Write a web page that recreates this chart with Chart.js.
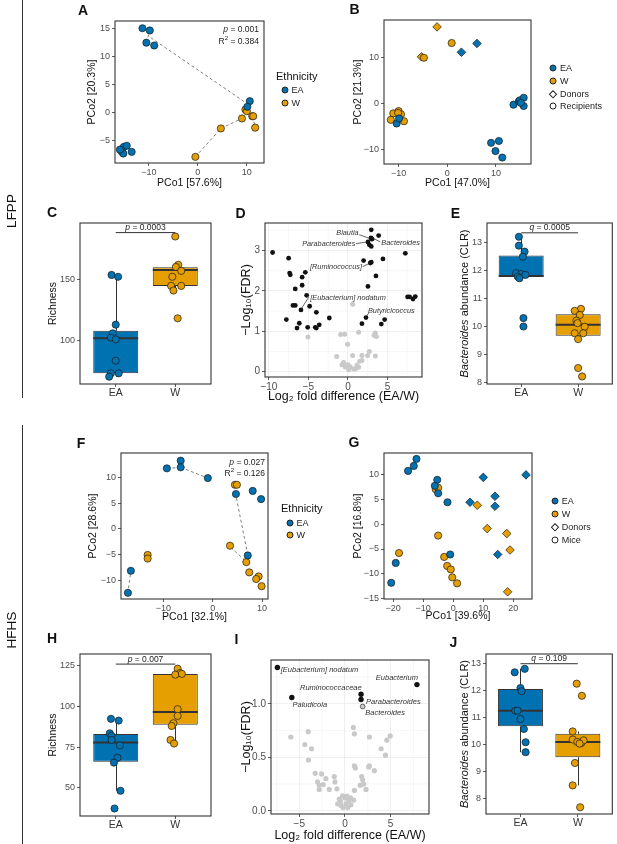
<!DOCTYPE html>
<html>
<head>
<meta charset="utf-8">
<title>LFPP / HFHS panels</title>
<script src="https://cdn.jsdelivr.net/npm/chart.js@4.4.1/dist/chart.umd.min.js"></script>
<style>
  html, body { margin: 0; padding: 0; background: #fff; }
  body { position: relative; width: 617px; height: 844px; overflow: hidden;
         font-family: 'Liberation Sans', Arial, sans-serif; color: #222; }
  #wrap canvas { position: absolute; left: 0; top: 0; }
  .lbl { position: absolute; white-space: nowrap; line-height: 1; transform: translateY(-50%); }
  .mk { position: absolute; width: 7px; height: 7px; box-sizing: border-box; border: 0.8px solid #222;
        border-radius: 50%; transform: translate(-50%, -50%); }
  .dia { border-radius: 0; width: 5.5px; height: 5.5px; transform: translate(-50%, -50%) rotate(45deg); }
  .rule { position: absolute; left: 22px; width: 1px; background: #333; }
</style>
</head>
<body>
<div id="wrap"></div>
<div id="text"></div>
<script>
// ── DATA ─────────────────────────────────────────────
const cats = ['EA', 'W'];

// A: LFPP PCoA
const aEA = [[-11.3,15.1],[-9.8,14.7],[-10.5,12.5],[-8.9,12.0],[10.6,2.0],[10.1,1.0],
  [-15.5,-7.1],[-15.1,-6.2],[-14.5,-6.0],[-13.5,-7.1],[-15.2,-7.4],[-15.9,-6.7]];
const aW = [[9.7,0.5],[10.0,0.2],[11.1,-0.7],[11.3,-0.7],[9.0,-1.1],[11.7,-2.75],[4.7,-2.9],[-0.5,-8.0]];
const aLinks = [[-9.6,13.4,10.0,1.6],[-0.5,-8.0,4.7,-2.9],[4.7,-2.9,9.0,-1.1],[9.0,-1.1,10.0,0.3],
  [11.2,-0.7,11.7,-2.75],[-10.5,12.5,-9.8,14.7]];
const aXTicks = [-10, 0, 10];
const aYTicks = [-5, 0, 5, 10, 15];

// B: LFPP donors + recipients
const bEA = [[-10.4,-4.4],[-9.9,-3.3],[13.6,-0.3],[14.7,0.4],[14.9,0.65],[15.7,1.2],[15.7,-0.6],[15.1,0.1],
  [9.0,-8.6],[10.6,-8.2],[9.9,-10.4],[11.3,-11.8]];
const bW = [[0.9,13.1],[-4.8,9.9],[-11.1,-2.2],[-10.0,-1.7],[-9.5,-2.4],[-11.6,-3.6],[-8.9,-3.9],[-10.1,-2.1]];
const bEADonor = [[2.9,11.1],[6.1,13.0]];
const bWDonor = [[-2.1,16.6],[-5.3,10.1]];
const bXTicks = [-10, 0, 10];
const bYTicks = [-10, 0, 10];

// C: LFPP richness
const cEA = [153.5,152,113,106,102.4,101,83.7,73.4,73.4,70.7];
const cEAJit = [-0.07,0.04,0,-0.05,-0.08,0,0,-0.08,0.05,-0.11];
const cW = [184.8,161.7,160,156.8,152,144.6,144.6,140.8,118.2];
const cWJit = [0,0.05,0.01,0.1,-0.05,-0.07,0.1,-0.03,0.04];
const cBoxEA = [70.7,73.4,102,108,153.5];   // lo, q1, median, q3, hi
const cBoxW = [140.8,144.6,157.6,159.8,161.7];
const cYTicks = [100, 150];
const cPval = '0.0003', cBracketY = 188;

// D: LFPP volcano
const dSig = [[-9.54,2.95],[-7.51,2.81],[-7.38,2.44],[-7.3,2.4],[-5.4,2.46],[-5.8,2.34],[-5.8,2.14],[-6.67,2.05],
  [-5.23,1.89],[-6.96,1.64],[-6.67,1.64],[-5.95,1.53],[-4.85,1.62],[-7.8,1.29],[-6.16,1.2],[-4.0,1.47],
  [-6.45,1.08],[-5.1,1.1],[-4.14,1.1],[-4.0,1.08],[-3.63,1.16],[-2.36,1.33],
  [2.95,3.51],[3.88,3.37],[2.91,3.31],[3.04,3.28],[2.53,3.21],[2.7,3.14],[2.95,3.1],[1.98,2.75],[2.83,2.69],
  [2.95,2.71],[4.43,2.79],[3.54,2.37],[2.53,2.11],[7.26,2.93],[7.55,1.85],[7.8,1.85],[8.23,1.8],[8.52,1.86],
  [2.28,1.34],[1.77,1.19],[4.22,1.18],[4.64,1.29]];
const dNs = [[-5.06,0.86],[0.59,1.67],[-0.93,0.92],[-0.42,0.93],[1.35,0.98],[3.46,0.96],[3.59,0.87],[-0.04,0.68],
  [2.7,0.5],[2.49,0.4],[3.46,0.39],[0.59,0.4],[1.77,0.4],[-1.43,0.38],[-0.55,0.23],[-0.76,0.17],[-0.34,0.12],
  [0,0.17],[0.3,0.12],[0.72,0.07],[1.14,0.16],[1.48,0.26],[1.77,0.28],[0.93,0.07],[0.08,0.05],[1.35,0.11],
  [3.3,0.9]];
const dXTicks = [-10, -5, 0, 5];
const dYTicks = [0, 1, 2, 3];

// E: LFPP Bacteroides
const eEA = [13.2,12.88,12.67,12.49,11.9,11.87,11.84,11.78,11.72,10.3,10.0];
const eEAJit = [-0.04,-0.04,0.06,0.03,-0.09,0,0.075,-0.06,-0.03,0.04,0.04];
const eW = [10.63,10.56,10.41,10.21,10.12,9.99,9.76,9.76,9.55,8.52,8.22];
const eWJit = [0.05,-0.06,0.03,-0.03,-0.01,0.115,-0.06,0.09,0,0,0.07];
const eBoxEA = [11.72,11.78,11.8,12.53,13.2];
const eBoxW = [9.55,9.67,10.06,10.44,10.63];
const eYTicks = [8, 9, 10, 11, 12, 13];
const eQval = '0.0005', eBracketY = 13.34;

// F: HFHS PCoA
const fEA = [[-6.5,13.3],[-6.5,12.0],[-9.3,11.8],[-1.0,9.9],[4.7,6.8],[8.1,7.4],[9.8,5.8],[7.1,-5.2],[-16.6,-8.2],[-17.2,-12.5]];
const fW = [[4.5,8.6],[4.9,8.6],[3.5,-3.3],[6.8,-6.5],[7.4,-8.5],[9.3,-9.3],[8.8,-9.8],[9.9,-11.2],[-13.2,-5.1],[-13.2,-5.8]];
const fLinks = [[-9.3,11.8,-6.5,12.0],[-6.5,12.0,-1.0,9.9],[4.8,6.0,7.0,-4.6],[3.6,-3.6,6.6,-6.2],[-16.7,-8.9,-17.1,-11.8]];
const fXTicks = [-10, 0, 10];
const fYTicks = [-10, -5, 0, 5, 10];

// G: HFHS donors + mice
const gEA = [[-12.2,13.1],[-13.1,11.7],[-15,10.7],[-5.3,8.9],[-6.1,7.7],[-5,6.2],[-1.9,4.4],[-1,-6.1],[-19.1,-7.8],[-20.6,-11.8]];
const gW = [[-5.8,7.0],[-5,7.3],[-5,-2.3],[-18,-5.8],[-3,-6.6],[-2,-8.4],[-0.8,-9.1],[-0.3,-10.7],[1.3,-11.9]];
const gEADonor = [[10,9.4],[24.2,9.9],[13.9,5.6],[13.9,3.6],[5.6,4.4],[14.8,-6.1]];
const gWDonor = [[8,3.8],[11.3,-0.9],[17.8,-1.9],[18.9,-5.2],[18.1,-13.6]];
const gXTicks = [-20, -10, 0, 10, 20];
const gYTicks = [-15, -10, -5, 0, 5, 10];

// H: HFHS richness
const hEA = [92.4,91.3,83.5,81.9,79.4,76.1,68.5,65.5,48.2,37.3];
const hEAJit = [-0.08,0.05,-0.1,-0.07,-0.07,0.07,0.03,-0.03,0.08,-0.02];
const hW = [123.2,120.5,119.5,120,98.3,94.2,89.7,88,79.4,77.2];
const hWJit = [0.04,0.08,0,0.11,0.04,0.04,-0.03,-0.06,-0.08,-0.02];
const hBoxEA = [48.2,66,77.8,83,92.4];
const hBoxW = [77.2,88.7,96.5,119.9,123.2];
const hYTicks = [50, 75, 100, 125];
const hPval = '0.007', hBracketY = 126;

// I: HFHS volcano
const iSig = [[-7.4,1.34],[-5.82,1.06],[1.76,1.09],[1.76,1.04],[7.88,1.18]];
const iOutlined = [[1.94,0.975]];
const iNs = [[-5.93,0.69],[-4.03,0.74],[-4.4,0.62],[-3.66,0.58],[-4.0,0.475],[-3.26,0.35],[-2.56,0.345],[-3.0,0.27],
  [-2.09,0.3],[-1.17,0.32],[-2.82,0.24],[-2.82,0.2],[-2.38,0.245],[-1.72,0.2],[-1.1,0.27],[-0.88,0.205],[-0.26,0.14],
  [0,0.12],[0.22,0.137],[-0.62,0.11],[-0.8,0.065],[-0.44,0.05],[0.11,0.065],[0.4,0.09],[0.66,0.056],[0.95,0.1],
  [1.03,0.19],[0.92,0.78],[1.03,0.72],[1.03,0.42],[1.14,0.4],[1.83,0.32],[1.94,0.29],[1.68,0.24],[2.3,0.2],
  [2.67,0.69],[2.67,0.42],[3.22,0.375],[2.6,0.41],[3.96,0.58],[4.43,0.52],[4.58,0.66],[4.95,0.7],[2.05,0.25],
  [-0.2,0.03],[0.3,0.03],[-0.5,0.09],[0.6,0.12]];
const iXTicks = [-5, 0, 5];
const iYTicks = [0, 0.5, 1];

// J: HFHS Bacteroides
const jEA = [12.68,12.81,12.1,11.98,11.26,11.26,10.95,10.58,10.09,9.72];
const jEAJit = [-0.1,0.075,0,0.02,-0.09,-0.05,0,0.06,0.09,0.09];
const jW = [12.26,11.81,10.49,10.19,10.1,10.06,10.16,10.04,9.32,8.49,7.68];
const jWJit = [-0.02,0.07,-0.09,-0.09,-0.01,0.06,0.1,0.03,-0.05,-0.09,0.04];
const jBoxEA = [9.72,10.68,11.26,12.06,12.81];
const jBoxW = [8.49,9.53,10.1,10.4,10.49];
const jYTicks = [8, 9, 10, 11, 12, 13];
const jQval = '0.109', jBracketY = 13.0;

// ── STYLE ────────────────────────────────────────────
const W = 617, H = 844;
const FONT = "'Liberation Sans', Arial, Helvetica, sans-serif";
const BLUE = '#0072B2', ORANGE = '#E69F00', INK = '#333333', TICK = '#4d4d4d', GREY = '#c9c9c9';

const minus = v => String(v).replace('-', '\u2212');

function pts(arr, color, opt) {
  return Object.assign({
    data: arr.map(([x, y]) => ({x, y})),
    backgroundColor: color, borderColor: '#1a1a1a', borderWidth: 0.7,
    pointRadius: 3.6, pointStyle: 'circle', order: 0
  }, opt || {});
}
function jit(vals, off, cx, color) {
  return pts(vals.map((v, i) => [cx + off[i], v]), color);
}
function links(segs) {
  return segs.map(s => ({
    data: [{x: s[0], y: s[1]}, {x: s[2], y: s[3]}], showLine: true,
    borderColor: '#808080', borderDash: [3, 2.5], borderWidth: 1, pointRadius: 0, order: 5
  }));
}
function boxes(bEA, bW) {
  return {
    type: 'bar', data: [bEA, bW].map((b, i) => ({x: i + 1, y: [b[1], b[3]]})),
    backgroundColor: [BLUE, ORANGE], borderColor: INK, borderWidth: 1, borderSkipped: false,
    barThickness: 45, grouped: false, inflateAmount: 0, order: 3
  };
}

// mixed italic / roman text on the canvas
function rich(ctx, parts, x, y, size, align) {
  const fonts = parts.map(p => (p[1] ? 'italic ' : '') + size + 'px ' + FONT);
  const widths = parts.map((p, i) => { ctx.font = fonts[i]; return ctx.measureText(p[0]).width; });
  const total = widths.reduce((a, b) => a + b, 0);
  let cx = align === 'center' ? x - total / 2 : align === 'right' ? x - total : x;
  ctx.textAlign = 'left';
  parts.forEach((p, i) => { ctx.font = fonts[i]; ctx.fillText(p[0], cx, y); cx += widths[i]; });
}

function deco(o) {
  return {
    id: 'deco',
    beforeDatasetsDraw(chart) {
      const {ctx, chartArea: a, scales: {x, y}} = chart;
      ctx.save();
      if (o.gridlines) {
        ctx.strokeStyle = '#efefef'; ctx.lineWidth = 0.5;
        [[x, o.xt], [y, o.yt]].forEach(([s, t]) => {
          const step = t[1] - t[0];
          for (let v = t[0] - step / 2; v < s.max; v += step) {
            if (v <= s.min) continue;
            const p = s.getPixelForValue(v);
            ctx.beginPath();
            if (s === x) { ctx.moveTo(p, a.top); ctx.lineTo(p, a.bottom); }
            else { ctx.moveTo(a.left, p); ctx.lineTo(a.right, p); }
            ctx.stroke();
          }
        });
      }
      if (o.boxes) {
        ctx.strokeStyle = INK; ctx.lineWidth = 1;
        o.boxes.forEach((b, i) => {
          const px = Math.round(x.getPixelForValue(i + 1)) + 0.5;
          ctx.beginPath();
          ctx.moveTo(px, y.getPixelForValue(b[4])); ctx.lineTo(px, y.getPixelForValue(b[3]));
          ctx.moveTo(px, y.getPixelForValue(b[1])); ctx.lineTo(px, y.getPixelForValue(b[0]));
          ctx.stroke();
        });
      }
      ctx.restore();
    },
    afterDatasetDraw(chart, args) {
      if (!o.boxes || args.meta.type !== 'bar') return;
      const {ctx, scales: {y}} = chart;
      ctx.save();
      ctx.strokeStyle = INK; ctx.lineWidth = 2;
      args.meta.data.forEach((el, i) => {
        const py = y.getPixelForValue(o.boxes[i][2]);
        ctx.beginPath(); ctx.moveTo(el.x - el.width / 2, py); ctx.lineTo(el.x + el.width / 2, py); ctx.stroke();
      });
      ctx.restore();
    },
    afterDraw(chart) {
      const {ctx, chartArea: a, scales: {x, y}} = chart;
      ctx.save();
      ctx.strokeStyle = INK; ctx.lineWidth = 1.1;
      ctx.strokeRect(a.left, a.top, a.right - a.left, a.bottom - a.top);
      if (o.bracket) {
        const py = y.getPixelForValue(o.bracket.y);
        ctx.lineWidth = 1;
        ctx.beginPath(); ctx.moveTo(x.getPixelForValue(1), py); ctx.lineTo(x.getPixelForValue(2), py); ctx.stroke();
        ctx.fillStyle = '#222'; ctx.textBaseline = 'bottom';
        rich(ctx, o.bracket.parts, x.getPixelForValue(1.5), py - 0.5, 8.5, 'center');
      }
      if (o.labels) {
        ctx.strokeStyle = '#222'; ctx.lineWidth = 0.7; ctx.fillStyle = '#333'; ctx.textBaseline = 'middle';
        o.labels.forEach(l => {
          if (l.seg) {
            ctx.beginPath();
            ctx.moveTo(x.getPixelForValue(l.seg[0]), y.getPixelForValue(l.seg[1]));
            ctx.lineTo(x.getPixelForValue(l.seg[2]), y.getPixelForValue(l.seg[3]));
            ctx.stroke();
          }
          rich(ctx, [[l.t, 1]], x.getPixelForValue(l.x), y.getPixelForValue(l.y), o.labelSize, l.align);
        });
      }
      if (o.ytitleRich) {
        ctx.fillStyle = '#111'; ctx.textBaseline = 'middle';
        ctx.translate(o.ytx, (a.top + a.bottom) / 2);
        ctx.rotate(-Math.PI / 2);
        rich(ctx, o.ytitleRich, 0, 0, 11, 'center');
      }
      ctx.restore();
    }
  };
}

function panel(o) {
  const cv = document.createElement('canvas');
  cv.width = W; cv.height = H;
  document.getElementById('wrap').appendChild(cv);
  const [l, t, r, b] = o.box;
  const ts = o.titleSize || 10.5;
  const off = 4 + ts * 0.6;
  const padL = o.ytx - off;
  const padB = o.xty ? H - (o.xty + off) : H - (b + 30);
  const tickFont = {family: FONT, size: o.tickSize || 9};
  const titleOpt = text => ({display: !!text, text: text || '', color: '#111', font: {family: FONT, size: ts}, padding: 4});
  return new Chart(cv, {
    type: 'scatter',
    data: {datasets: o.datasets},
    plugins: [deco(o)],
    options: {
      responsive: false, animation: false, events: [],
      layout: {padding: {left: padL, top: t, right: W - r, bottom: padB}},
      plugins: {legend: {display: false}, tooltip: {enabled: false}},
      scales: {
        x: {
          type: 'linear', min: o.x ? o.x[0] : 0.4, max: o.x ? o.x[1] : 2.6, offset: false,
          afterFit: s => { s.height = (H - padB) - b; },
          afterBuildTicks: s => { s.ticks = o.xt.map(v => ({value: v})); },
          grid: {offset: false, drawOnChartArea: !!o.gridlines, color: '#ebebeb', lineWidth: 0.8,
                 tickColor: INK, tickLength: 3},
          border: {display: false},
          ticks: {autoSkip: false, maxRotation: 0, padding: o.cat ? 0 : 1,
                  color: o.cat ? INK : TICK, font: o.cat ? {family: FONT, size: 10.5} : tickFont,
                  callback: v => o.cat ? o.cat[v - 1] : minus(v)},
          title: titleOpt(o.xtitle)
        },
        y: {
          type: 'linear', min: o.y[0], max: o.y[1],
          afterFit: s => { s.width = l - padL; },
          afterBuildTicks: s => { s.ticks = o.yt.map(v => ({value: v})); },
          grid: {drawOnChartArea: !!o.gridlines, color: '#ebebeb', lineWidth: 0.8, tickColor: INK, tickLength: 3},
          border: {display: false},
          ticks: {autoSkip: false, padding: 2, color: TICK, font: tickFont,
                  callback: v => o.yDecimals ? v.toFixed(o.yDecimals) : minus(v)},
          title: titleOpt(o.ytitleRich ? null : o.ytitle)
        }
      }
    }
  });
}

// ── PANELS ───────────────────────────────────────────
// A
panel({box: [115, 21, 264, 163], x: [-16.9, 13.5], y: [-9.1, 16.4], xt: aXTicks, yt: aYTicks,
  ytx: 91.7, xty: 183.3, xtitle: 'PCo1 [57.6%]', ytitle: 'PCo2 [20.3%]',
  datasets: [pts(aEA, BLUE), pts(aW, ORANGE), ...links(aLinks)]});

// B
panel({box: [384, 20, 531, 164], x: [-13, 17.2], y: [-13.2, 18.1], xt: bXTicks, yt: bYTicks,
  ytx: 358.3, xty: 182.7, xtitle: 'PCo1 [47.0%]', ytitle: 'PCo2 [21.3%]',
  datasets: [pts(bEA, BLUE), pts(bW, ORANGE),
    pts(bEADonor, BLUE, {pointStyle: 'rectRot', pointRadius: 4.3}),
    pts(bWDonor, ORANGE, {pointStyle: 'rectRot', pointRadius: 4.3})]});

// C
panel({box: [80, 223, 211, 384], y: [64.7, 195.8], xt: [1, 2], yt: cYTicks, cat: cats,
  ytx: 53.3, ytitle: 'Richness', boxes: [cBoxEA, cBoxW],
  bracket: {y: cBracketY, parts: [['p', 1], [' = ' + cPval, 0]]},
  datasets: [jit(cEA, cEAJit, 1, BLUE), jit(cW, cWJit, 2, ORANGE), boxes(cBoxEA, cBoxW)]});

// D
panel({box: [265, 223, 422, 377], x: [-10.5, 9.37], y: [-0.13, 3.68], xt: dXTicks, yt: dYTicks,
  ytx: 246.7, xty: 397, xtitle: 'Log\u2082 fold difference (EA/W)', ytitle: '\u2212Log\u2081\u2080(FDR)',
  titleSize: 12.5, tickSize: 10, gridlines: true, labelSize: 7.3,
  labels: [
    {t: 'Blautia', x: 1.35, y: 3.43, align: 'right', seg: [1.43, 3.39, 2.87, 3.29]},
    {t: 'Bacteroides', x: 4.22, y: 3.18, align: 'left', seg: [3.04, 3.32, 4.09, 3.21]},
    {t: 'Parabacteroides', x: 0.93, y: 3.17, align: 'right', seg: [1.01, 3.17, 2.4, 3.21]},
    {t: '[Ruminococcus]', x: 1.77, y: 2.59, align: 'right', seg: [1.86, 2.6, 2.7, 2.68]},
    {t: '[Eubacterium] nodatum', x: -4.77, y: 1.82, align: 'left', seg: [-5.9, 1.56, -4.98, 1.84]},
    {t: 'Butyricicoccus', x: 2.53, y: 1.51, align: 'left', seg: [2.28, 1.36, 2.62, 1.45]}
  ],
  datasets: [pts(dNs, GREY, {borderWidth: 0, pointRadius: 2.5}),
    pts(dSig, '#111', {borderWidth: 0, pointRadius: 2.4})]});

// E
panel({box: [487, 223, 614, 384], y: [7.95, 13.69], xt: [1, 2], yt: eYTicks, cat: cats,
  ytx: 465, ytitleRich: [['Bacteroides', 1], [' abundance (CLR)', 0]], boxes: [eBoxEA, eBoxW],
  bracket: {y: eBracketY, parts: [['q', 1], [' = ' + eQval, 0]]},
  datasets: [jit(eEA, eEAJit, 1, BLUE), jit(eW, eWJit, 2, ORANGE), boxes(eBoxEA, eBoxW)]});

// F
panel({box: [121, 453, 268, 599], x: [-18.6, 11.2], y: [-13.7, 14.8], xt: fXTicks, yt: fYTicks,
  ytx: 93.3, xty: 617, xtitle: 'PCo1 [32.1%]', ytitle: 'PCo2 [28.6%]',
  datasets: [pts(fEA, BLUE), pts(fW, ORANGE), ...links(fLinks)]});

// G
panel({box: [384, 453, 532, 599], x: [-23, 26.2], y: [-15.05, 14.3], xt: gXTicks, yt: gYTicks,
  ytx: 358.3, xty: 616, xtitle: 'PCo1 [39.6%]', ytitle: 'PCo2 [16.8%]',
  datasets: [pts(gEA, BLUE), pts(gW, ORANGE),
    pts(gEADonor, BLUE, {pointStyle: 'rectRot', pointRadius: 4.3}),
    pts(gWDonor, ORANGE, {pointStyle: 'rectRot', pointRadius: 4.3})]});

// H
panel({box: [80, 654, 211, 816], y: [32.7, 132.2], xt: [1, 2], yt: hYTicks, cat: cats,
  ytx: 53.3, ytitle: 'Richness', boxes: [hBoxEA, hBoxW],
  bracket: {y: hBracketY, parts: [['p', 1], [' = ' + hPval, 0]]},
  datasets: [jit(hEA, hEAJit, 1, BLUE), jit(hW, hWJit, 2, ORANGE), boxes(hBoxEA, hBoxW)]});

// I
panel({box: [271, 660, 429, 814], x: [-8.1, 9.2], y: [-0.03, 1.41], xt: iXTicks, yt: iYTicks, yDecimals: 1,
  ytx: 246.7, xty: 836, xtitle: 'Log\u2082 fold difference (EA/W)', ytitle: '\u2212Log\u2081\u2080(FDR)',
  titleSize: 12.5, tickSize: 10, gridlines: true, labelSize: 7.5,
  labels: [
    {t: '[Eubacterium] nodatum', x: -7.03, y: 1.317, align: 'left'},
    {t: 'Paludicola', x: -5.75, y: 0.988, align: 'left'},
    {t: 'Ruminococcaceae', x: 1.83, y: 1.152, align: 'right'},
    {t: 'Parabacteroides', x: 2.31, y: 1.022, align: 'left'},
    {t: 'Bacteroides', x: 2.23, y: 0.919, align: 'left'},
    {t: 'Eubacterium', x: 7.99, y: 1.239, align: 'right'}
  ],
  datasets: [pts(iNs, GREY, {borderWidth: 0, pointRadius: 2.6}),
    pts(iOutlined, GREY, {borderColor: '#444', borderWidth: 0.8, pointRadius: 2.4}),
    pts(iSig, '#111', {borderWidth: 0, pointRadius: 2.7})]});

// J
panel({box: [486, 654, 614, 814], y: [7.43, 13.36], xt: [1, 2], yt: jYTicks, cat: cats,
  ytx: 465, ytitleRich: [['Bacteroides', 1], [' abundance (CLR)', 0]], boxes: [jBoxEA, jBoxW],
  bracket: {y: jBracketY, parts: [['q', 1], [' = ' + jQval, 0]]},
  datasets: [jit(jEA, jEAJit, 1, BLUE), jit(jW, jWJit, 2, ORANGE), boxes(jBoxEA, jBoxW)]});

// ── TEXT LAYER ───────────────────────────────────────
const layer = document.getElementById('text');
function label(html, x, y, css) {
  const d = document.createElement('div');
  d.className = 'lbl';
  d.innerHTML = html;
  d.style.left = x + 'px'; d.style.top = y + 'px';
  Object.assign(d.style, css || {});
  layer.appendChild(d);
  return d;
}
function marker(x, y, fill, diamond) {
  const d = document.createElement('div');
  d.className = diamond ? 'mk dia' : 'mk';
  d.style.left = x + 'px'; d.style.top = y + 'px';
  d.style.background = fill;
  layer.appendChild(d);
}
const center = {transform: 'translate(-50%, -50%)'};
const right = {transform: 'translate(-100%, -50%)'};

// panel letters
[['A', 83, 10], ['B', 354.5, 8.5], ['C', 52, 212], ['D', 240.5, 212.5], ['E', 455.5, 212.5],
 ['F', 81, 443], ['G', 354, 441.5], ['H', 52, 638], ['I', 236.5, 639], ['J', 453.5, 641.5]]
  .forEach(([t, x, y]) => label(t, x, y, Object.assign({fontWeight: 'bold', fontSize: '14px', color: '#111'}, center)));

// row labels
label('LFPP', 12, 211, {transform: 'translate(-50%, -50%) rotate(-90deg)', fontSize: '13.5px', color: '#111'});
label('HFHS', 12, 630, {transform: 'translate(-50%, -50%) rotate(-90deg)', fontSize: '13.5px', color: '#111'});
[[0, 398], [425, 419]].forEach(([t, h]) => {
  const d = document.createElement('div');
  d.className = 'rule'; d.style.top = t + 'px'; d.style.height = h + 'px';
  layer.appendChild(d);
});

// PERMANOVA stats
const stat = {fontSize: '8.5px', color: '#222'};
label('<i>p</i> = 0.001', 259, 29.3, Object.assign({}, stat, right));
label('R<sup style="font-size:6px">2</sup> = 0.384', 259, 39.5, Object.assign({}, stat, right));
label('<i>p</i> = 0.027', 265, 461.7, Object.assign({}, stat, right));
label('R<sup style="font-size:6px">2</sup> = 0.126', 265, 472, Object.assign({}, stat, right));

// legends
function ethnicity(x, y) {
  label('Ethnicity', x - 9, y, {fontSize: '11px', color: '#111'});
  [[cats[0], BLUE], [cats[1], ORANGE]].forEach(([t, c], i) => {
    marker(x, y + 14.5 + i * 12.5, c);
    label(t, x + 6.5, y + 14.5 + i * 12.5, {fontSize: '9px', color: '#222'});
  });
}
ethnicity(285, 75.7);
ethnicity(290, 508.3);

function shapes(x, y, last) {
  const items = [[cats[0], BLUE, false], [cats[1], ORANGE, false], ['Donors', '#fff', true], [last, '#fff', false]];
  items.forEach(([t, c, dia], i) => {
    marker(x, y + i * 12.9, c, dia);
    label(t, x + 6.7, y + i * 12.9, {fontSize: '9px', color: '#222'});
  });
}
shapes(553.3, 67.7, 'Recipients');
shapes(555, 501, 'Mice');
</script>
</body>
</html>
